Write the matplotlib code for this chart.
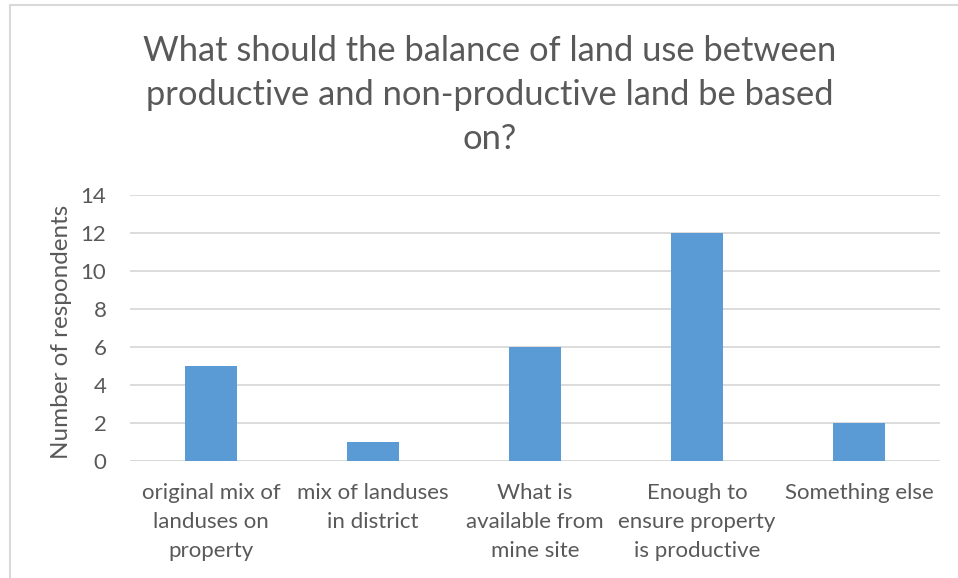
import matplotlib
matplotlib.use("Agg")
import matplotlib.pyplot as plt
from matplotlib.lines import Line2D

categories = [
    "original mix of\nlanduses on\nproperty",
    "mix of landuses\nin district",
    "What is\navailable from\nmine site",
    "Enough to\nensure property\nis productive",
    "Something else",
]
respondents = [5, 1, 6, 12, 2]
y_ticks = [0, 2, 4, 6, 8, 10, 12, 14]

title = "What should the balance of land use between\nproductive and non-productive land be based\non?"

plt.rcParams["font.family"] = ["Lato", "DejaVu Sans"]
text_color = "#595959"
grid_color = "#D9D9D9"
bar_color = "#5B9BD5"

W, H = 958, 578
fig = plt.figure(figsize=(W / 100, H / 100), dpi=100)
ax = fig.add_axes([130 / W, 1 - 461 / H, (940 - 130) / W, (461 - 195) / H])

x = list(range(len(categories)))
ax.bar(x, respondents, width=0.315, color=bar_color, zorder=3)

ax.set_xlim(-0.5, len(categories) - 0.5)
ax.set_ylim(0, 14)
ax.set_yticks(y_ticks)
ax.set_xticks(x)
ax.set_xticklabels(categories, fontsize=16, color=text_color, linespacing=1.56)
ax.tick_params(axis="y", labelsize=16, labelcolor=text_color, length=0, pad=17)
ax.tick_params(axis="x", length=0, pad=16)
ax.grid(axis="y", color=grid_color, linewidth=1.3, zorder=0)
for s in ax.spines.values():
    s.set_visible(False)
ax.axhline(0, color=grid_color, linewidth=1.3, zorder=2)

ax.set_ylabel("Number of respondents", fontsize=17.5, color=text_color)
ax.yaxis.set_label_coords(-58 / (940 - 130), 0.5 - 4 / (461 - 195))

fig.text(490 / W, 1 - 95 / H, title, ha="center", va="center",
         fontsize=24.8, color=text_color, linespacing=1.48)

# outer chart border (top and left edges)
fig.add_artist(Line2D([10 / W, 1], [1 - 5 / H, 1 - 5 / H], transform=fig.transFigure,
                      color=grid_color, linewidth=1.5))
fig.add_artist(Line2D([10 / W, 10 / W], [0, 1 - 5 / H], transform=fig.transFigure,
                      color=grid_color, linewidth=1.5))

fig.savefig("out.png", dpi=100, facecolor="white")
